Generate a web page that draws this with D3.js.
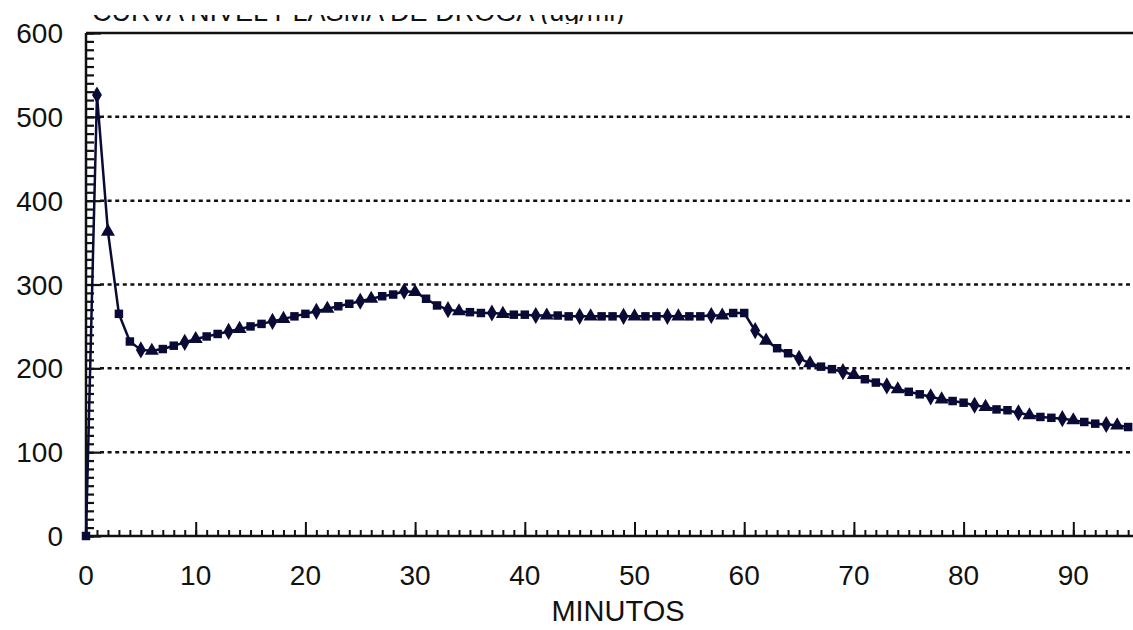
<!DOCTYPE html>
<html>
<head>
<meta charset="utf-8">
<script src="https://cdn.jsdelivr.net/npm/d3@7"></script>
<style>
  body { margin: 0; background: #fff; }
  svg { display: block; }
  text { font-family: "Liberation Sans", Arial, sans-serif; fill: #111; }
</style>
</head>
<body>
<div id="chart"></div>
<script>
const minutes = [0, 1, 2, 3, 4, 5, 6, 7, 8, 9, 10, 11, 12, 13, 14, 15, 16, 17, 18, 19,
  20, 21, 22, 23, 24, 25, 26, 27, 28, 29, 30, 31, 32, 33, 34, 35, 36, 37, 38, 39,
  40, 41, 42, 43, 44, 45, 46, 47, 48, 49, 50, 51, 52, 53, 54, 55, 56, 57, 58, 59,
  60, 61, 62, 63, 64, 65, 66, 67, 68, 69, 70, 71, 72, 73, 74, 75, 76, 77, 78, 79,
  80, 81, 82, 83, 84, 85, 86, 87, 88, 89, 90, 91, 92, 93, 94, 95];
const concentration = [0, 526, 363, 265, 232, 222, 221, 223, 227, 231, 235, 238, 241, 244, 247, 250, 253, 256, 259, 262,
  265, 268, 271, 274, 277, 280, 283, 286, 288, 292, 291, 283, 275, 270, 268, 267, 266, 266, 265, 264,
  264, 263, 263, 263, 262, 262, 262, 262, 262, 262, 262, 262, 262, 262, 262, 262, 262, 263, 263, 266,
  266, 245, 233, 224, 218, 212, 206, 202, 199, 196, 192, 187, 183, 179, 175, 172, 169, 166, 163, 161,
  159, 156, 154, 151, 150, 147, 144, 142, 141, 140, 138, 136, 134, 133, 132, 130];
const yTicks = [0, 100, 200, 300, 400, 500, 600];
const xTicks = [0, 10, 20, 30, 40, 50, 60, 70, 80, 90];
const titleText = 'CURVA NIVEL PLASMA DE DROGA   (ug/ml)';
const xTitle = 'MINUTOS';

const width = 1133, height = 630;
const x0 = 86, yBottom = 536, yTop = 33;
const ink = '#0a0a36';

const data = minutes.map((m, i) => [m, concentration[i]]);

const xScale = d3.scaleLinear().domain([0, 100]).range([x0, x0 + 1097]);
const yScale = d3.scaleLinear().domain([0, 600]).range([yBottom, yTop]);

const svg = d3.select('#chart').append('svg')
  .attr('width', width)
  .attr('height', height);

// title: the source picture is cropped, only the bottom of the letters shows
svg.append('clipPath').attr('id', 'titleClip')
  .append('rect').attr('x', 0).attr('y', 15).attr('width', width).attr('height', 9);
svg.append('text')
  .attr('clip-path', 'url(#titleClip)')
  .attr('x', 92).attr('y', 21)
  .style('font-size', '27px')
  .text(titleText);

// dotted grid
svg.append('g').selectAll('line')
  .data(yTicks.filter(d => d > 0 && d < 600))
  .enter().append('line')
  .attr('x1', x0 + 14).attr('x2', width)
  .attr('y1', d => yScale(d)).attr('y2', d => yScale(d))
  .attr('stroke', '#111').attr('stroke-width', 2.5)
  .attr('stroke-dasharray', '4,3.6');

// frame top line
svg.append('line')
  .attr('x1', x0).attr('x2', width)
  .attr('y1', yScale(600)).attr('y2', yScale(600))
  .attr('stroke', '#111').attr('stroke-width', 2.5);

// y axis, ticks pointing inward
const yMinor = d3.axisRight(yScale).tickValues(d3.range(0, 601, 10)).tickSize(8).tickFormat('');
const yMajor = d3.axisRight(yScale).tickValues(yTicks).tickSize(15).tickFormat('');
[yMinor, yMajor].forEach(ax => {
  const g = svg.append('g').attr('transform', `translate(${x0},0)`).call(ax);
  g.select('.domain').remove();
  g.selectAll('line').attr('stroke', '#111').attr('stroke-width', 2.2);
});
svg.append('g').selectAll('text')
  .data(yTicks).enter().append('text')
  .attr('x', 63).attr('y', d => yScale(d))
  .attr('dy', '0.36em')
  .attr('text-anchor', 'end')
  .style('font-size', '28px')
  .text(d => d);

// x axis, ticks pointing up
const xMinor = d3.axisTop(xScale).tickValues(d3.range(0, 100, 1)).tickSize(6).tickFormat('');
const xMajor = d3.axisTop(xScale).tickValues(xTicks).tickSize(14).tickFormat('');
[xMinor, xMajor].forEach(ax => {
  const g = svg.append('g').attr('transform', `translate(0,${yBottom})`).call(ax);
  g.select('.domain').remove();
  g.selectAll('line').attr('stroke', '#111').attr('stroke-width', 2);
});
svg.append('g').selectAll('text')
  .data(xTicks).enter().append('text')
  .attr('x', d => xScale(d)).attr('y', 585)
  .attr('text-anchor', 'middle')
  .style('font-size', '28px')
  .text(d => d);
svg.append('text')
  .attr('x', 618).attr('y', 621)
  .attr('text-anchor', 'middle')
  .style('font-size', '29px')
  .text(xTitle);

// axis lines
svg.append('line')
  .attr('x1', x0).attr('x2', x0)
  .attr('y1', yScale(600)).attr('y2', yBottom + 2)
  .attr('stroke', '#111').attr('stroke-width', 2.5);
svg.append('line')
  .attr('x1', x0).attr('x2', width)
  .attr('y1', yBottom).attr('y2', yBottom)
  .attr('stroke', '#111').attr('stroke-width', 2.5);

// series
const line = d3.line().x(d => xScale(d[0])).y(d => yScale(d[1]));
svg.append('path')
  .datum(data)
  .attr('fill', 'none')
  .attr('stroke', ink)
  .attr('stroke-width', 2.5)
  .attr('d', line);

const shapes = [d3.symbolSquare, d3.symbolDiamond, d3.symbolTriangle, d3.symbolSquare];
svg.append('g').selectAll('path')
  .data(data).enter().append('path')
  .attr('transform', d => `translate(${xScale(d[0])},${yScale(d[1])})`)
  .attr('d', (d, i) => d3.symbol().type(shapes[i % shapes.length]).size(i % 4 === 0 || i % 4 === 3 ? 72 : 85)())
  .attr('fill', ink);
</script>
</body>
</html>
